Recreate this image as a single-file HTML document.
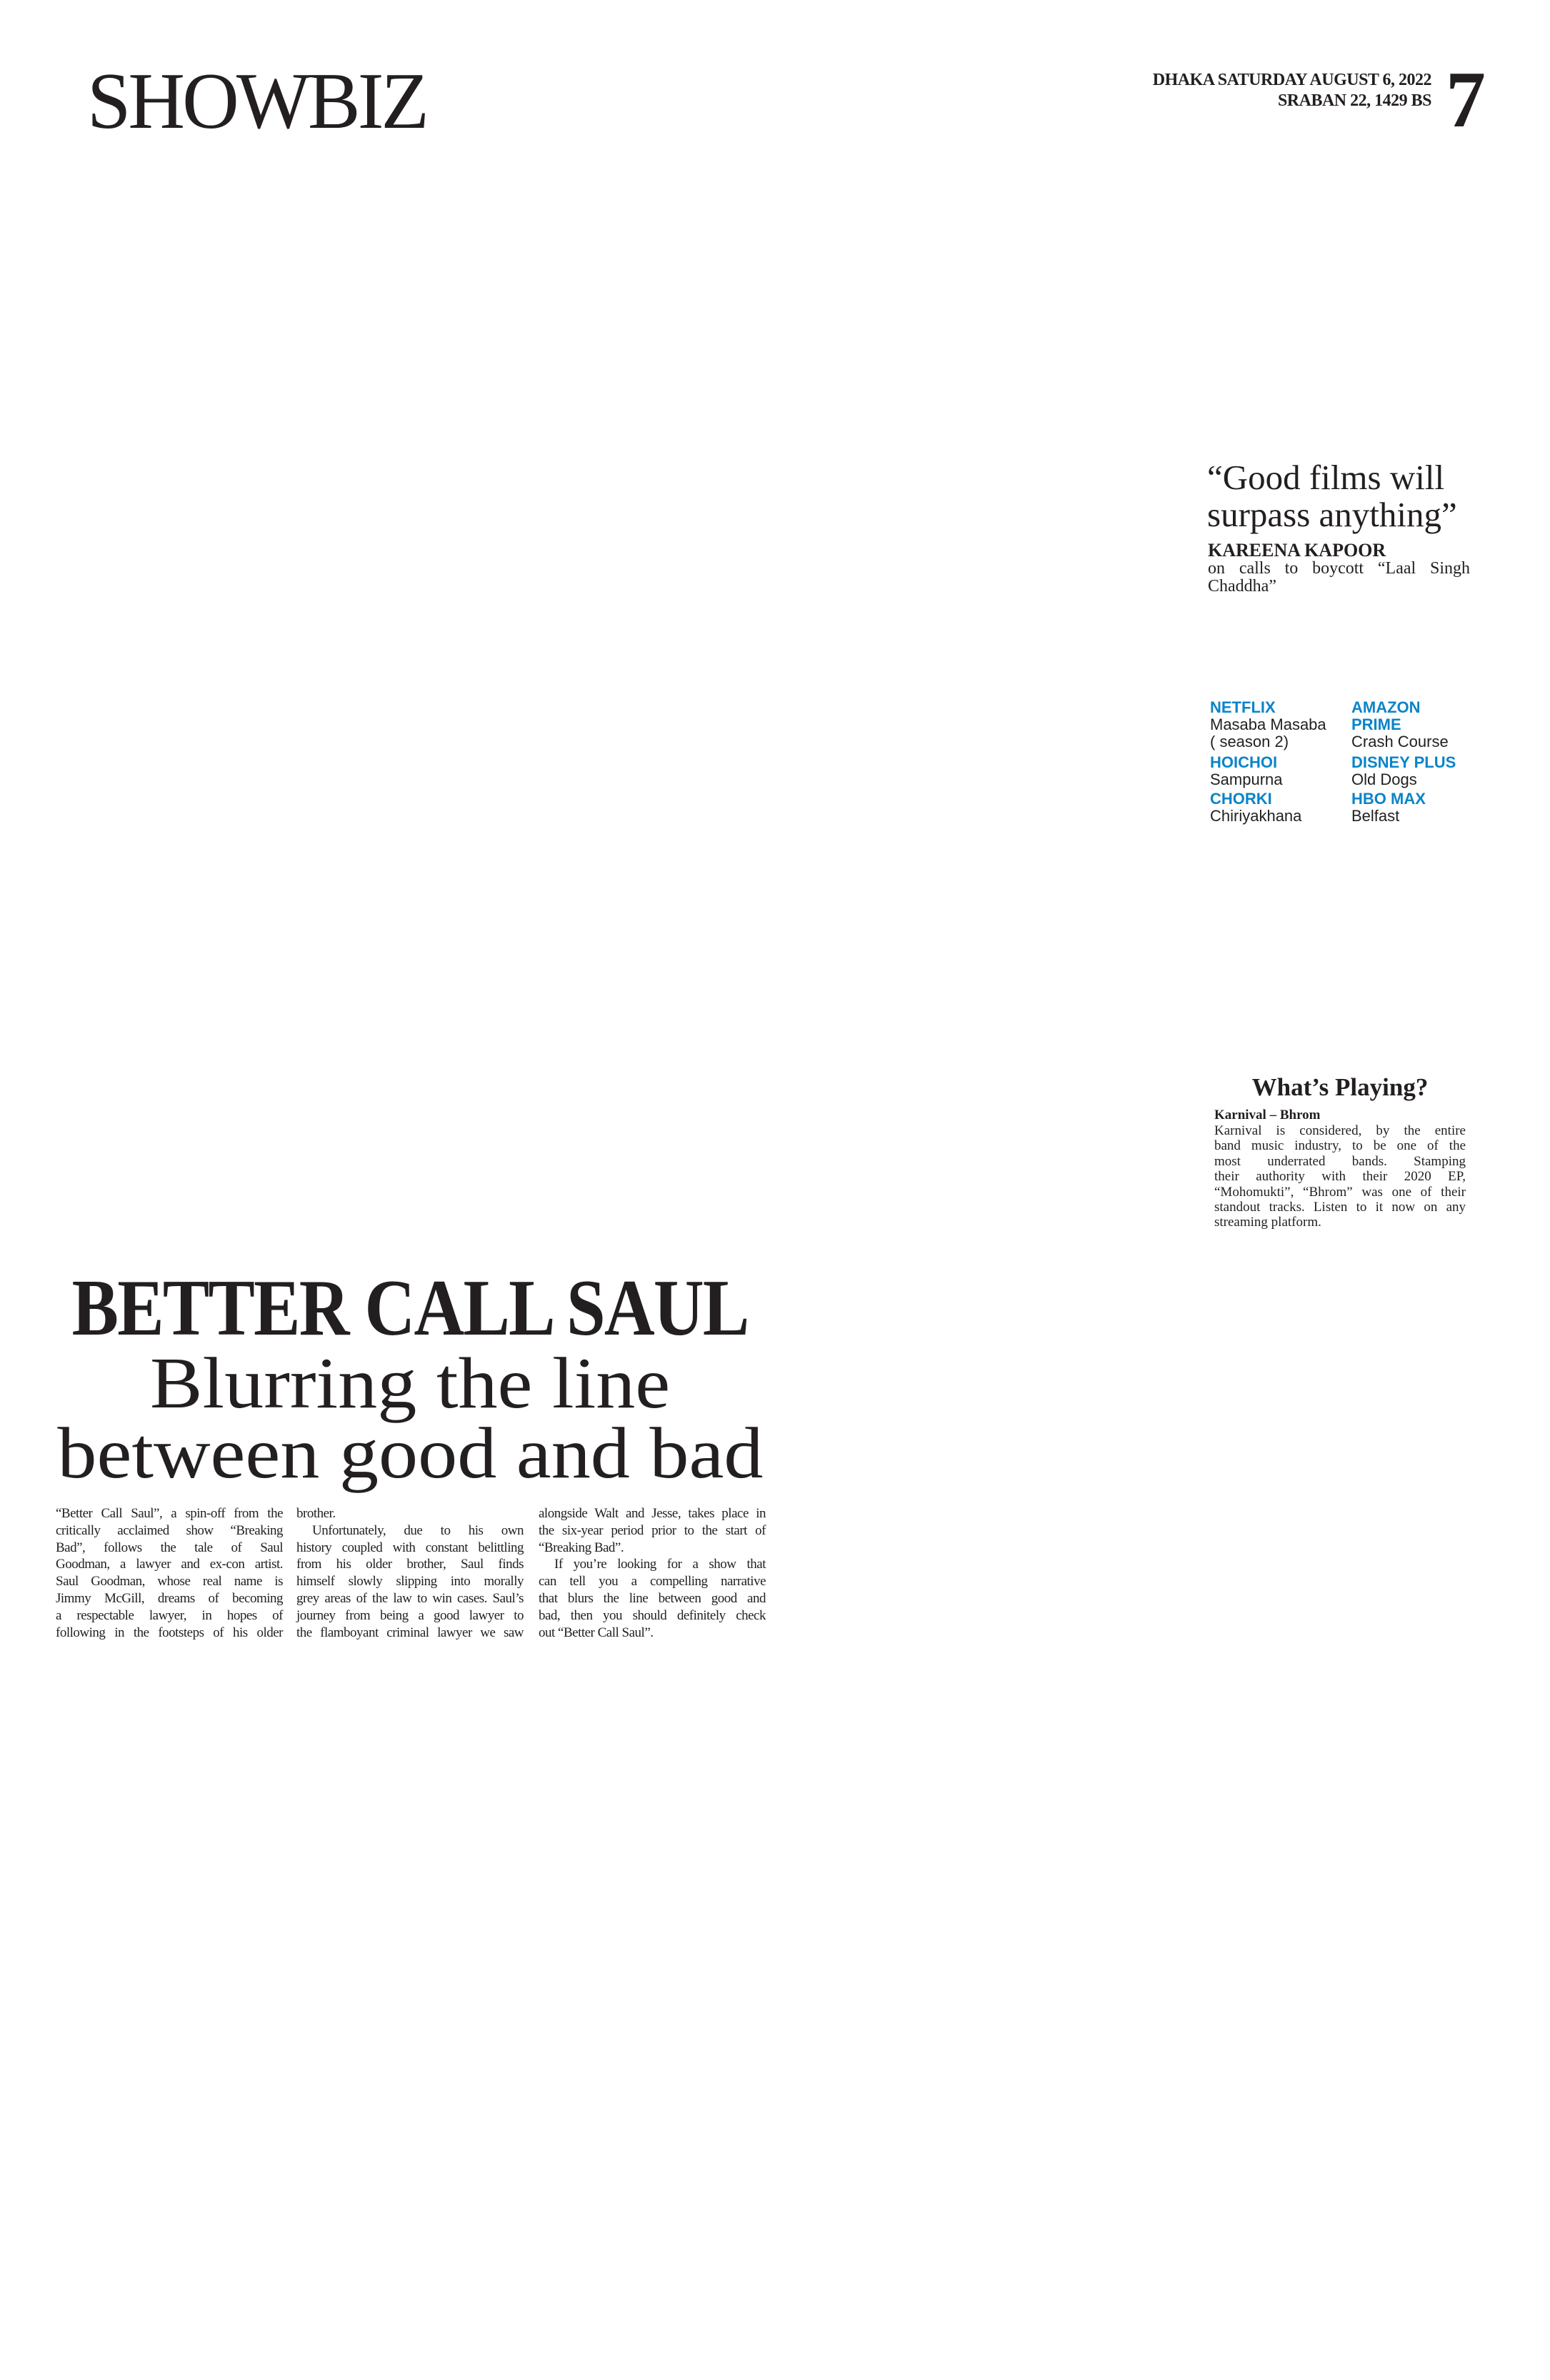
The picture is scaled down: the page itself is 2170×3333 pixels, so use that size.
<!DOCTYPE html>
<html><head><meta charset="utf-8"><style>
*{margin:0;padding:0;box-sizing:border-box}
body{width:2170px;height:3333px;background:#fff;position:relative;overflow:hidden;font-family:"Liberation Serif",serif;color:#231f20}
.a{position:absolute;white-space:nowrap}
.s{font-family:"Liberation Sans",sans-serif}
.b{color:#0a84c9;font-weight:bold}
.col{position:absolute;width:318px;font-size:19px;line-height:23.8px;letter-spacing:-0.5px}
.col div{text-align:justify;text-align-last:justify;white-space:nowrap;overflow:visible}
.col div.l{text-align-last:left}
.col div.i{text-indent:22px}
.wp div{text-align:justify;text-align-last:justify;white-space:nowrap}
.wp div.l{text-align-last:left}
</style></head><body>
<div class="a" style="left:122px;top:86px;font-size:112px;line-height:112px;letter-spacing:-4px;transform:scaleX(0.985);transform-origin:left">SHOWBIZ</div>
<div class="a" style="right:166px;top:98px;font-size:24px;line-height:29px;text-align:right;font-weight:bold;letter-spacing:-0.5px">DHAKA SATURDAY AUGUST 6, 2022<br>SRABAN 22, 1429 BS</div>
<div class="a" style="left:2024px;top:84px;font-size:112px;line-height:112px;font-weight:bold">7</div>

<div class="a" style="left:1690px;top:643px;font-size:49px;line-height:52px">“Good films will<br>surpass anything”</div>
<div class="a" style="left:1691px;top:757px;font-size:26px;line-height:28px;font-weight:bold">KAREENA KAPOOR</div>
<div class="a" style="left:1691px;top:784px;width:367px;font-size:24px;line-height:25px;white-space:normal;text-align:justify">on calls to boycott “Laal Singh Chaddha”</div>

<div class="a s" style="left:1694px;top:979px;font-size:22px;line-height:24px">
<div class="b">NETFLIX</div><div>Masaba Masaba</div><div>( season 2)</div>
<div class="b" style="margin-top:5px">HOICHOI</div><div>Sampurna</div>
<div class="b" style="margin-top:3px">CHORKI</div><div>Chiriyakhana</div></div>
<div class="a s" style="left:1892px;top:979px;font-size:22px;line-height:24px">
<div class="b">AMAZON</div><div class="b">PRIME</div><div>Crash Course</div>
<div class="b" style="margin-top:5px">DISNEY PLUS</div><div>Old Dogs</div>
<div class="b" style="margin-top:3px">HBO MAX</div><div>Belfast</div></div>

<div class="a" style="left:1700px;width:352px;top:1503px;text-align:center;font-size:35px;line-height:40px;font-weight:bold">What’s Playing?</div>
<div class="a" style="left:1700px;top:1551px;font-size:19px;line-height:22px;font-weight:bold">Karnival – Bhrom</div>
<div class="a wp" style="left:1700px;top:1573px;width:352px;font-size:19px;line-height:21.4px">
<div>Karnival is considered, by the entire</div>
<div>band music industry, to be one of the</div>
<div>most underrated bands. Stamping</div>
<div>their authority with their 2020 EP,</div>
<div>“Mohomukti”, “Bhrom” was one of their</div>
<div>standout tracks. Listen to it now on any</div>
<div class="l">streaming platform.</div>
</div>

<div class="a" style="left:0;width:1148px;top:1777px;text-align:center;font-size:112px;line-height:110px;font-weight:bold"><span style="display:inline-block;transform:scaleX(0.875);letter-spacing:-2px">BETTER CALL SAUL</span></div>
<div class="a" style="left:0;width:1148px;top:1890px;text-align:center;font-size:102px;line-height:96px"><span style="display:inline-block;transform:scaleX(1.08)">Blurring the line</span></div>
<div class="a" style="left:0;width:1148px;top:1988px;text-align:center;font-size:102px;line-height:96px"><span style="display:inline-block;transform:scaleX(1.08)">between good and bad</span></div>

<div class="col" style="left:78px;top:2108px">
<div>“Better Call Saul”, a spin-off from the</div>
<div>critically acclaimed show “Breaking</div>
<div>Bad”, follows the tale of Saul</div>
<div>Goodman, a lawyer and ex-con artist.</div>
<div>Saul Goodman, whose real name is</div>
<div>Jimmy McGill, dreams of becoming</div>
<div>a respectable lawyer, in hopes of</div>
<div>following in the footsteps of his older</div>
</div>
<div class="col" style="left:415px;top:2108px">
<div class="l">brother.</div>
<div class="i">Unfortunately, due to his own</div>
<div>history coupled with constant belittling</div>
<div>from his older brother, Saul finds</div>
<div>himself slowly slipping into morally</div>
<div>grey areas of the law to win cases. Saul’s</div>
<div>journey from being a good lawyer to</div>
<div>the flamboyant criminal lawyer we saw</div>
</div>
<div class="col" style="left:754px;top:2108px">
<div>alongside Walt and Jesse, takes place in</div>
<div>the six-year period prior to the start of</div>
<div class="l">“Breaking Bad”.</div>
<div class="i">If you’re looking for a show that</div>
<div>can tell you a compelling narrative</div>
<div>that blurs the line between good and</div>
<div>bad, then you should definitely check</div>
<div class="l">out “Better Call Saul”.</div>
</div>
</body></html>
